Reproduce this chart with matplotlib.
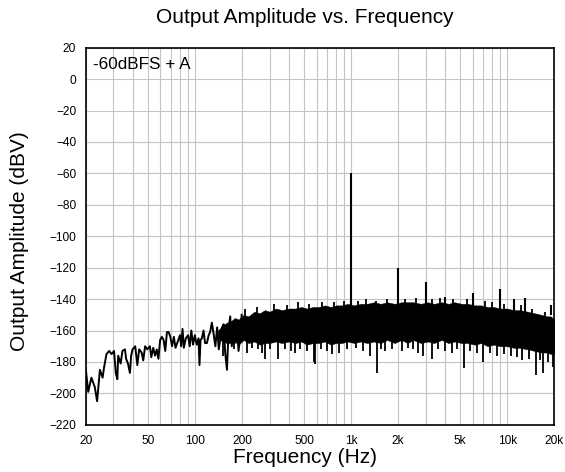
import matplotlib
matplotlib.use("Agg")
import matplotlib.pyplot as plt
from matplotlib.ticker import FixedLocator, LogLocator, NullFormatter

plt.rcParams["font.family"] = ["Liberation Sans", "DejaVu Sans"]

# low-frequency part of the trace, individual bins still visible (Hz, dBV)
low_freq = [20.0, 20.7, 21.7, 22.8, 23.6, 24.6, 25.6, 26.1, 27.1, 28.2, 29.2, 30.3,
            31.1, 31.8, 32.2, 33.4, 34.3, 35.6, 36.2, 37.2, 38.3, 39.0, 39.8, 41.4,
            42.7, 43.9, 45.5, 46.6, 47.9, 49.4, 51.4, 52.5, 54.0, 55.5, 56.9, 58.3,
            59.8, 61.3, 62.9, 64.5, 66.1, 67.8, 69.5, 71.3, 73.2, 75.0, 76.9, 80.1,
            81.5, 83.2, 84.8, 87.3, 90.3, 92.5, 94.7, 97.1, 99.8, 102.5, 105.3, 106.8,
            108.5, 110.7, 113.4, 116.0, 119.2, 122.3, 125.0, 128.2, 131.5, 135.0, 138.6,
            142.0, 145.5, 149.0, 152.6, 156.0, 160.2, 164.2, 168.1, 172.0, 176.4, 180.0,
            185.0, 190.0, 194.2, 199.0]
low_db = [-185, -199, -190, -196, -205, -185, -190, -184, -175, -173, -175, -173,
          -187, -191, -176, -181, -173, -172, -178, -181, -187, -176, -172, -170,
          -182, -172, -174, -179, -170, -172, -170, -177, -171, -176, -172, -178,
          -166, -164, -166, -173, -161, -161, -164, -170, -164, -171, -168, -163,
          -170, -159, -171, -165, -163, -170, -160, -169, -163, -169, -165, -182,
          -166, -165, -160, -168, -168, -163, -161, -155, -162, -170, -158,
          -172, -165, -158, -156, -174, -185, -159, -151, -170, -159, -168,
          -155, -173, -165, -150]

# dense noise floor: upper / lower edge of the black band
band_freq = [140, 150, 160, 170, 180, 190, 205, 220, 240, 260, 280, 300, 330, 360,
             400, 440, 480, 520, 570, 620, 680, 740, 800, 870, 950, 1050, 1150, 1270,
             1400, 1550, 1700, 1900, 2100, 2300, 2500, 2800, 3100, 3400, 3800, 4200,
             4600, 5100, 5600, 6200, 6800, 7500, 8200, 9000, 10000, 11000, 12000,
             13500, 15000, 16500, 18000, 19000, 20000]
band_top = [-160, -157, -155, -154, -152, -153, -150, -151, -148, -149, -147, -148,
            -146, -147, -146, -146, -145, -146, -145, -145, -144, -145, -144, -144,
            -143, -144, -143, -143, -142, -143, -142, -143, -142, -142, -142, -143,
            -142, -143, -142, -143, -142, -143, -143, -144, -144, -145, -145, -146,
            -146, -147, -147, -148, -149, -150, -151, -151, -153]
band_bot = [-165, -167, -168, -168, -167, -169, -166, -168, -167, -169, -168, -168,
            -167, -168, -167, -168, -167, -169, -168, -168, -167, -169, -168, -168,
            -167, -168, -167, -168, -167, -168, -166, -168, -166, -168, -166, -168,
            -167, -168, -166, -168, -167, -168, -168, -169, -168, -170, -169, -170,
            -170, -171, -171, -172, -173, -174, -174, -175, -175]

# downward dips below the band
dip_freq = [150, 178, 214, 232, 254, 270, 281, 300, 342, 377, 410, 437, 470, 520,
            580, 589, 640, 700, 752, 840, 942, 1080, 1200, 1327, 1475, 1560, 1653,
            1820, 2130, 2300, 2500, 2700, 2900, 3300, 3600, 4000, 4400, 4800, 5300,
            5800, 6400, 7000, 7700, 8600, 9500, 10500, 11500, 12500, 13800, 15300,
            16200, 17000, 18200, 19500]
dip_db = [-176, -172, -174, -171, -172, -174, -178, -172, -178, -172, -173, -174,
          -172, -173, -180, -181, -172, -173, -175, -174, -172, -171, -173, -176,
          -187, -172, -173, -172, -173, -171, -172, -174, -176, -178, -172, -173,
          -174, -172, -184, -173, -174, -180, -174, -176, -175, -176, -177, -179,
          -178, -188, -179, -187, -180, -183]

# small upward ticks on top of the band
bump_freq = [210, 250, 320, 390, 460, 540, 650, 780, 900, 1100, 1250, 1450, 1700,
             2200, 2600, 3300, 3700, 4500, 5500, 7200, 8000, 9600, 12300, 14500, 17500]
bump_db = [-146, -145, -143, -144, -142, -143, -142, -142, -141, -141, -140, -141,
           -140, -140, -139, -140, -139, -140, -140, -141, -142, -143, -144, -146, -148]

# harmonic spurs above the band
spur_freq = [1000, 2000, 3000, 4000, 6000, 9000, 11000, 13000, 19000]
spur_db = [-60, -120, -129, -138.6, -136, -133.7, -140, -139.5, -144]

x_ticks = [20, 50, 100, 200, 500, 1000, 2000, 5000, 10000, 20000]
x_tick_labels = ["20", "50", "100", "200", "500", "1k", "2k", "5k", "10k", "20k"]
y_ticks = list(range(-220, 21, 20))


def nearest(freqs, values, f):
    i = min(range(len(freqs)), key=lambda k: abs(freqs[k] - f))
    return values[i]


fig = plt.figure(figsize=(5.65, 4.72), dpi=100)
ax = fig.add_axes([0.152, 0.100, 0.829, 0.799])

ax.set_xscale("log")
ax.fill_between(band_freq, band_bot, band_top, color="black", linewidth=0.3,
                edgecolor="black", zorder=3)
ax.plot(low_freq, low_db, color="black", linewidth=1.4, zorder=3)
ax.vlines(dip_freq, dip_db, [nearest(band_freq, band_bot, f) + 2 for f in dip_freq],
          color="black", linewidth=1.3, zorder=3)
ax.vlines(bump_freq, [nearest(band_freq, band_top, f) - 2 for f in bump_freq], bump_db,
          color="black", linewidth=1.3, zorder=3)
ax.vlines(spur_freq, -150, spur_db, color="black", linewidth=1.5, zorder=3)

ax.set_xlim(20, 20000)
ax.set_ylim(-220, 20)
ax.xaxis.set_major_locator(FixedLocator(x_ticks))
ax.set_xticklabels(x_tick_labels)
ax.xaxis.set_minor_locator(LogLocator(base=10, subs=range(1, 10)))
ax.xaxis.set_minor_formatter(NullFormatter())
ax.set_yticks(y_ticks)
ax.tick_params(which="both", length=0, labelsize=8.6, pad=7)
ax.grid(which="both", axis="x", color="#c4c4c4", linewidth=0.8, zorder=0)
ax.grid(which="major", axis="y", color="#c4c4c4", linewidth=0.8, zorder=0)
ax.set_axisbelow(True)
for sp in ax.spines.values():
    sp.set_linewidth(1.2)

ax.text(0.016, 0.955, "-60dBFS + A", transform=ax.transAxes, fontsize=12.3,
        va="center", ha="left")

fig.text(0.54, 0.962, "Output Amplitude vs. Frequency", ha="center", va="center",
         fontsize=15)
fig.text(0.54, 0.030, "Frequency (Hz)", ha="center", va="center", fontsize=15)
fig.text(0.035, 0.49, "Output Amplitude (dBV)", ha="center", va="center",
         rotation=90, fontsize=15)

fig.savefig("out.png", dpi=100)
